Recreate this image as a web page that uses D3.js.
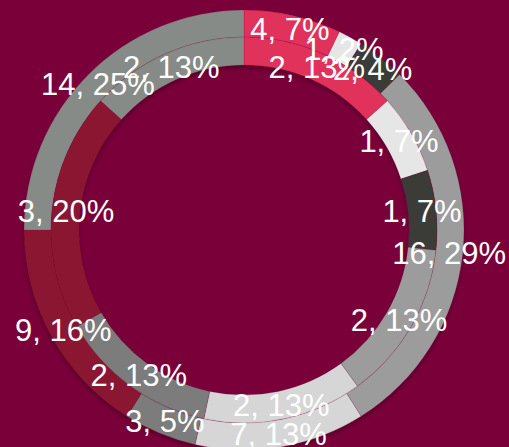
<!DOCTYPE html>
<html>
<head>
<meta charset="utf-8">
<script src="https://cdn.jsdelivr.net/npm/d3@7"></script>
<style>
  html, body { margin: 0; padding: 0; background: #7a003a; }
  svg { display: block; }
</style>
</head>
<body>
<div id="chart"></div>
<script>
let width = 509;
let height = 447;

// series order clockwise from 12 o'clock
const outerValues = [4, 1, 2, 16, 7, 3, 9, 14];
const innerValues = [2, 1, 1, 2, 2, 2, 3, 2];
const colors = ["#e0325a", "#e6e6e6", "#3a3a38", "#9c9c9c", "#d6d6d6", "#7b7b7b", "#8b1830", "#878b87"];

let cx = 244, cy = 230;
let rOuter = 220, rMid = 193, rInner = 165;

let svg = d3.select("#chart")
    .append("svg")
    .attr("width", width)
    .attr("height", height);

svg.append("rect")
    .attr("width", width)
    .attr("height", height)
    .attr("fill", "#7a003a");

let defs = svg.append("defs");
defs.append("filter")
    .attr("id", "shadow")
    .attr("x", "-20%").attr("y", "-20%")
    .attr("width", "140%").attr("height", "140%")
    .append("feDropShadow")
    .attr("dx", 0)
    .attr("dy", 3)
    .attr("stdDeviation", 2)
    .attr("flood-color", "#000")
    .attr("flood-opacity", 0.3);

let g = svg.append("g").attr("transform", `translate(${cx},${cy})`);
let rings = g.append("g").attr("filter", "url(#shadow)");

let pie = d3.pie().sort(null).value(d => d);

function ring(values, r0, r1) {
    let total = d3.sum(values);
    let arcs = pie(values);
    let arc = d3.arc().innerRadius(r0).outerRadius(r1);
    rings.append("g")
        .selectAll("path")
        .data(arcs)
        .enter()
        .append("path")
        .attr("d", arc)
        .attr("fill", (d, i) => colors[i])
        .attr("stroke", "rgba(122,0,58,0.3)")
        .attr("stroke-width", 0.6);
    return arcs.map(a => ({
        pos: arc.centroid(a),
        text: a.data + ", " + Math.round(a.data / total * 100) + "%"
    }));
}

let outerLabels = ring(outerValues, rMid, rOuter);
let innerLabels = ring(innerValues, rInner, rMid);

g.selectAll("text.lbl")
    .data(innerLabels.concat(outerLabels))
    .enter()
    .append("text")
    .attr("class", "lbl")
    .attr("x", d => d.pos[0])
    .attr("y", d => d.pos[1])
    .attr("dy", "0.36em")
    .attr("text-anchor", "middle")
    .attr("font-family", "Liberation Sans, Arial, sans-serif")
    .attr("font-size", 31)
    .attr("fill", "#ffffff")
    .text(d => d.text);
</script>
</body>
</html>
